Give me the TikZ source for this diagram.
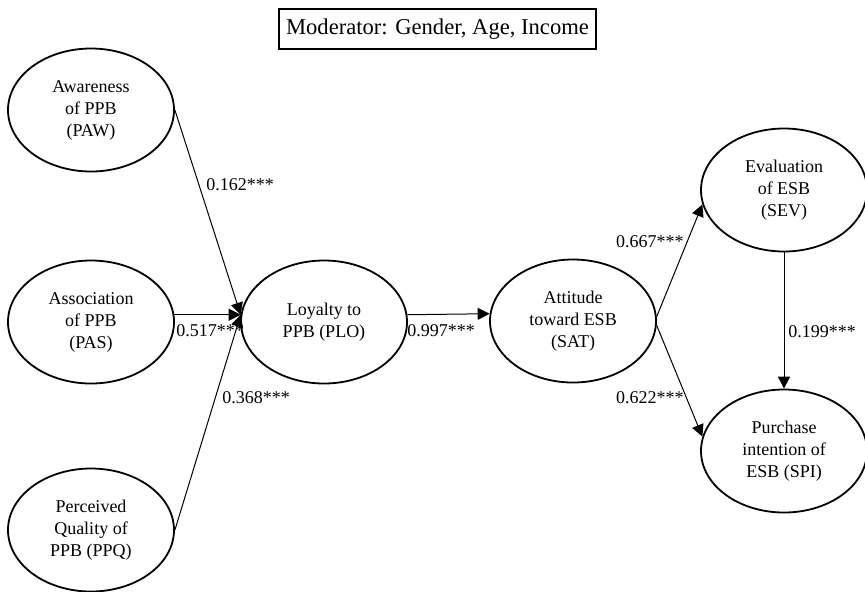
\documentclass[tikz,border=0pt]{standalone}
\usepackage{fontspec}
\setmainfont{Liberation Serif}
\usetikzlibrary{shapes.geometric,arrows.meta}

\begin{document}
\begin{tikzpicture}[x=0.5pt,y=-0.5pt,
    construct/.style={ellipse, draw, line width=0.9pt, minimum width=83pt,
      minimum height=61.5pt, inner sep=0pt, align=center,
      font=\fontsize{9}{11}\selectfont},
    link/.style={-{Triangle[length=6pt,width=6pt]}, line width=0.5pt},
    coef/.style={inner sep=0pt, font=\fontsize{9}{11}\selectfont}]
      \useasboundingbox (0,0) rectangle (865,591);
      % Define nodes
      \node[draw, line width=0.55pt, minimum width=158.5pt, minimum height=20pt,
        font=\fontsize{11.3}{13}\selectfont] (mod) at (437.5,29) {Moderator: Gender, Age, Income};
      \node[construct] (paw) at (91,110) {Awareness\\of PPB\\(PAW)};
      \node[construct] (pas) at (91,322) {Association\\of PPB\\(PAS)};
      \node[construct] (ppq) at (91,530) {Perceived\\Quality of\\PPB (PPQ)};
      \node[construct] (plo) at (324,322) {Loyalty to\\PPB (PLO)};
      \node[construct] (sat) at (573,321) {Attitude\\toward ESB\\(SAT)};
      \node[construct] (sev) at (784,190) {Evaluation\\of ESB\\(SEV)};
      \node[construct] (spi) at (784,451) {Purchase\\intention of\\ESB (SPI)};
      % Path coefficients
      \node[coef, anchor=west] (c162) at (206,185) {0.162***};
      \node[coef, anchor=west] (c517) at (176,331) {0.517***};
      \node[coef, anchor=west] (c368) at (222,398) {0.368***};
      \node[coef, anchor=west] (c997) at (407,331) {0.997***};
      \node[coef, anchor=east] (c667) at (684,242) {0.667***};
      \node[coef, anchor=east] (c622) at (684,398) {0.622***};
      \node[coef, anchor=west] (c199) at (788,332) {0.199***};
      % Connect nodes
      \draw[link] (paw.east) -- (plo.175);
      \draw[link] (pas.5) -- (plo.175);
      \draw[link] (ppq.east) -- (plo.175);
      \draw[link] (plo.5) -- (sat.175);
      \draw[link] (sat.3) -- (sev.190);
      \draw[link] (sat.357) -- (spi.170);
      \draw[link] (sev.south) -- (spi.north);
\end{tikzpicture}
\end{document}
